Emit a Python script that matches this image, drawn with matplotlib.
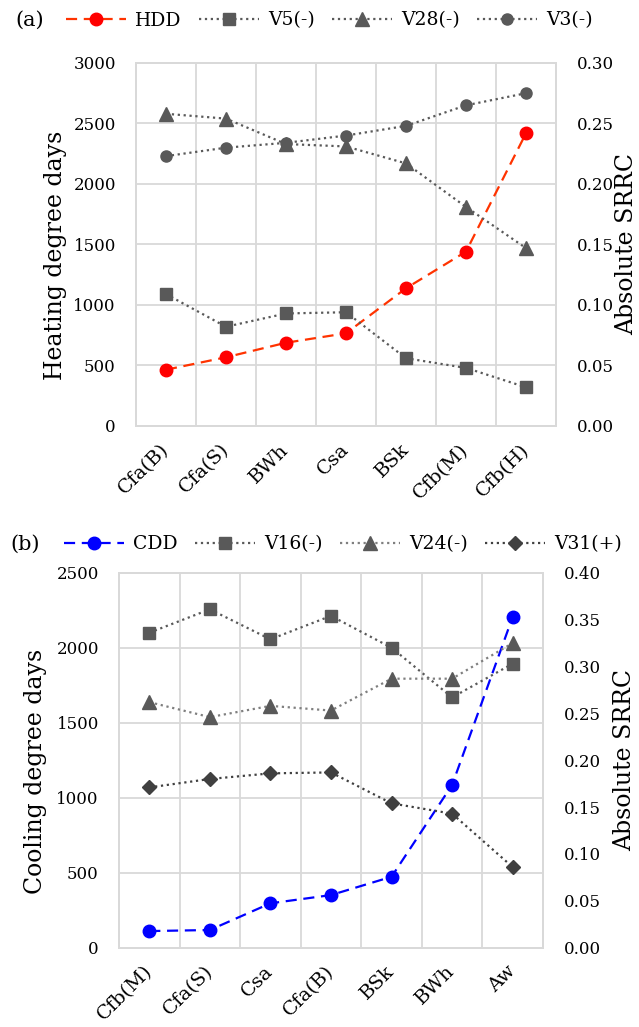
import numpy as np
import matplotlib
matplotlib.use("Agg")
import matplotlib.pyplot as plt

plt.rcParams['font.family'] = ['DejaVu Serif']

# panel (a): heating
cats_a = ["Cfa(B)", "Cfa(S)", "BWh", "Csa", "BSk", "Cfb(M)", "Cfb(H)"]
hdd = [465, 568, 688, 766, 1138, 1441, 2419]
v5 = [0.109, 0.082, 0.093, 0.094, 0.056, 0.048, 0.032]
v28 = [0.258, 0.254, 0.233, 0.231, 0.217, 0.181, 0.147]
v3 = [0.223, 0.230, 0.234, 0.240, 0.248, 0.265, 0.275]

# panel (b): cooling
cats_b = ["Cfb(M)", "Cfa(S)", "Csa", "Cfa(B)", "BSk", "BWh", "Aw"]
cdd = [111, 118, 296, 351, 473, 1085, 2205]
v16 = [0.336, 0.361, 0.329, 0.354, 0.320, 0.267, 0.303]
v24 = [0.262, 0.246, 0.258, 0.253, 0.287, 0.287, 0.325]
v31 = [0.171, 0.180, 0.186, 0.187, 0.154, 0.143, 0.086]

GRID = "#D9D9D9"
GRAY = "#595959"


def style_axes(ax, ax2, cats, ymax, ystep, y2max, y2step, ylabel, lx, rx):
    x = np.arange(len(cats))
    ax.set_xlim(-0.5, len(cats) - 0.5)
    ax.set_ylim(0, ymax)
    ax.set_yticks(np.arange(0, ymax + 1, ystep))
    ax2.set_ylim(0, y2max)
    r_ticks = np.arange(0, y2max + 1e-9, y2step)
    ax2.set_yticks(r_ticks)
    ax2.set_yticklabels([f"{v:.2f}" for v in r_ticks])
    ax.set_xticks(x)
    ax.set_xticklabels(cats, rotation=45, ha="right", va="center",
                       rotation_mode="anchor")
    ax.set_xticks(np.arange(0.5, len(cats) - 0.5, 1), minor=True)
    ax.grid(True, which="minor", axis="x", color=GRID, lw=1.3)
    ax.grid(True, which="major", axis="y", color=GRID, lw=1.3)
    ax.set_axisbelow(True)
    for a in (ax, ax2):
        for s in a.spines.values():
            s.set_color(GRID)
            s.set_linewidth(1.3)
        a.tick_params(length=0, labelsize=12, colors="black")
    ax.tick_params(axis="y", pad=14.5)
    ax.tick_params(axis="x", which="major", pad=15, labelsize=14)
    ax.tick_params(axis="x", which="minor", length=0)
    ax2.tick_params(axis="y", pad=15)
    ax.set_ylabel(ylabel, fontsize=17)
    ax.yaxis.set_label_coords(lx, 0.47)
    ax2.set_ylabel("Absolute SRRC", fontsize=17)
    ax2.yaxis.set_label_coords(rx, 0.5)
    return x


fig = plt.figure(figsize=(6.39, 10.27), dpi=100)

# ---- (a)
ax = fig.add_axes([0.2128, 0.5852, 0.6573, 0.3535])
ax2 = ax.twinx()
x = style_axes(ax, ax2, cats_a, 3000, 500, 0.30, 0.05,
               "Heating degree days", -0.165, 1.14)
h1, = ax.plot(x, hdd, ls=(0, (5, 3)), color="#FF3300", lw=1.6, marker="o",
              ms=9, mfc="#FF0000", mec="#FF0000", label="HDD", zorder=5)
h2, = ax2.plot(x, v5, ls=":", color=GRAY, lw=1.6, marker="s", ms=9,
               mfc=GRAY, mec=GRAY, label="V5(-)")
h3, = ax2.plot(x, v28, ls=":", color=GRAY, lw=1.6, marker="^", ms=10,
               mfc=GRAY, mec=GRAY, label="V28(-)")
h4, = ax2.plot(x, v3, ls=":", color=GRAY, lw=1.6, marker="o", ms=8,
               mfc=GRAY, mec=GRAY, label="V3(-)")
fig.text(0.024, 0.980, "(a)", fontsize=15, va="center")
fig.legend(handles=[h1, h2, h3, h4], loc="center left",
           bbox_to_anchor=(0.103, 0.980), ncol=4, frameon=False,
           borderpad=0, borderaxespad=0,
           fontsize=13.5, handlelength=3.2, columnspacing=0.9,
           handletextpad=0.5)

# ---- (b)
bx = fig.add_axes([0.1862, 0.0772, 0.6635, 0.3651])
bx2 = bx.twinx()
x = style_axes(bx, bx2, cats_b, 2500, 500, 0.40, 0.05,
               "Cooling degree days", -0.17, 1.165)
g1, = bx.plot(x, cdd, ls=(0, (5, 3)), color="#0000FF", lw=1.6, marker="o",
              ms=9, mfc="#0000FF", mec="#0000FF", label="CDD", zorder=5)
g2, = bx2.plot(x, v16, ls=":", color=GRAY, lw=1.6, marker="s", ms=9,
               mfc=GRAY, mec=GRAY, label="V16(-)")
g3, = bx2.plot(x, v24, ls=":", color="#7F7F7F", lw=1.6, marker="^", ms=10,
               mfc=GRAY, mec=GRAY, label="V24(-)")
g4, = bx2.plot(x, v31, ls=":", color="#404040", lw=1.6, marker="D", ms=7,
               mfc="#404040", mec="#404040", label="V31(+)")
fig.text(0.016, 0.470, "(b)", fontsize=15, va="center")
fig.legend(handles=[g1, g2, g3, g4], loc="center left",
           bbox_to_anchor=(0.100, 0.470), ncol=4, frameon=False,
           borderpad=0, borderaxespad=0,
           fontsize=13.5, handlelength=3.2, columnspacing=0.9,
           handletextpad=0.5)

fig.savefig("out.png", dpi=100)
